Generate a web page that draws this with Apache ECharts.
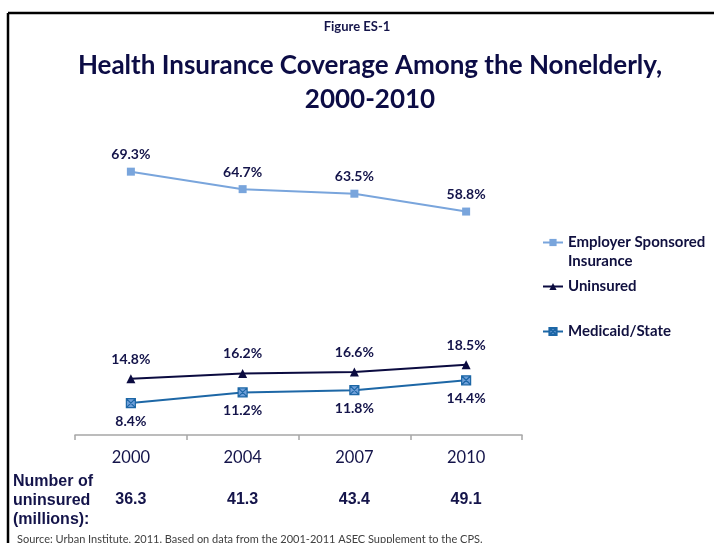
<!DOCTYPE html>
<html>
<head>
<meta charset="utf-8">
<script src="https://cdn.jsdelivr.net/npm/echarts@6/dist/echarts.min.js"></script>
<style>
  html, body { margin: 0; padding: 0; background: #fff; }
  #chart { width: 714px; height: 543px; }
</style>
</head>
<body>
<div id="chart"></div>
<script>
// Survey years and coverage shares (% of nonelderly)
const years = ['2000', '2004', '2007', '2010'];
const employerSponsored = [69.3, 64.7, 63.5, 58.8];
const uninsured = [14.8, 16.2, 16.6, 18.5];
const medicaidState = [8.4, 11.2, 11.8, 14.4];
// Number of uninsured people, millions
const uninsuredMillions = ['36.3', '41.3', '43.4', '49.1'];

const navy = '#14144a';
const labelFont = { fontFamily: 'Lato', fontWeight: 'bold', fontSize: 14, color: navy };
const pct = p => p.value.toFixed(1) + '%';

const chart = echarts.init(document.getElementById('chart'), null, { renderer: 'canvas' });

const legendBase = {
  orient: 'vertical',
  left: 537,
  itemWidth: 20,
  itemHeight: 9,
  itemGap: 4,
  textStyle: { fontFamily: 'Lato', fontWeight: 'bold', fontSize: 15, color: '#10103f', lineHeight: 19 },
  selectedMode: false
};

chart.setOption({
  animation: false,
  backgroundColor: '#ffffff',
  grid: { left: 75, right: 192, top: 131, bottom: 108, containLabel: false },
  xAxis: [
    {
      type: 'category',
      data: years,
      boundaryGap: true,
      axisLine: { show: true, lineStyle: { color: '#a6a6a6', width: 1.5 } },
      axisTick: { show: true, alignWithLabel: false, length: 5, lineStyle: { color: '#a6a6a6', width: 1.5 } },
      axisLabel: { margin: 14, fontFamily: 'Lato', fontSize: 16.5, color: navy },
      splitLine: { show: false }
    },
    {
      type: 'category',
      data: uninsuredMillions,
      position: 'bottom',
      offset: 57,
      gridIndex: 0,
      axisLine: { show: false },
      axisTick: { show: false },
      axisLabel: { margin: 0, fontFamily: 'Liberation Sans', fontWeight: 'bold', fontSize: 16, color: navy },
      splitLine: { show: false }
    }
  ],
  yAxis: {
    type: 'value',
    min: 0,
    max: 80,
    show: false,
    splitLine: { show: false }
  },
  legend: [
    Object.assign({}, legendBase, {
      top: 209,
      // blank first line keeps the icon level with "Employer Sponsored"
      formatter: () => ' \nEmployer Sponsored\nInsurance',
      data: ['Employer Sponsored Insurance']
    }),
    Object.assign({}, legendBase, { top: 272, data: ['Uninsured'] }),
    Object.assign({}, legendBase, { top: 317, data: ['Medicaid/State'] })
  ],
  series: [
    {
      name: 'Employer Sponsored Insurance',
      type: 'line',
      data: employerSponsored,
      symbol: 'rect',
      symbolSize: 8,
      lineStyle: { color: '#79a5dc', width: 2 },
      itemStyle: { color: '#79a5dc' },
      label: Object.assign({ show: true, position: 'top', distance: 6, formatter: pct }, labelFont)
    },
    {
      name: 'Uninsured',
      type: 'line',
      data: uninsured,
      symbol: 'triangle',
      symbolSize: [9, 9],
      lineStyle: { color: '#0b0b40', width: 2 },
      itemStyle: { color: '#0b0b40' },
      label: Object.assign({ show: true, position: 'top', distance: 8, formatter: pct }, labelFont)
    },
    {
      name: 'Medicaid/State',
      type: 'line',
      data: medicaidState,
      symbol: 'path://M0,0H10V10H0Z M0,0L10,10 M10,0L0,10',
      symbolSize: 9,
      lineStyle: { color: '#1d67a6', width: 2 },
      itemStyle: { color: '#6f9fd9', borderColor: '#1d67a6', borderWidth: 1.2 },
      label: Object.assign({ show: true, position: 'bottom', distance: 6, formatter: pct }, labelFont)
    }
  ],
  graphic: [
    // page frame
    { type: 'line', shape: { x1: 8, y1: 13, x2: 714, y2: 13 }, style: { stroke: '#000', lineWidth: 2.5 } },
    { type: 'line', shape: { x1: 8, y1: 13, x2: 8, y2: 543 }, style: { stroke: '#000', lineWidth: 2.5 } },
    {
      type: 'text', x: 357, y: 20,
      style: { text: 'Figure ES-1', fontFamily: 'Lato', fontWeight: 'bold', fontSize: 13, fill: navy, textAlign: 'center' }
    },
    {
      type: 'text', x: 370, y: 49,
      style: {
        text: 'Health Insurance Coverage Among the Nonelderly,\n2000-2010',
        fontFamily: 'Lato', fontWeight: 'bold', fontSize: 26, lineHeight: 34,
        fill: '#0c0c45', textAlign: 'center'
      }
    },
    {
      type: 'text', x: 13, y: 472,
      style: {
        text: 'Number of\nuninsured\n(millions):',
        fontFamily: 'Liberation Sans', fontWeight: 'bold', fontSize: 16, lineHeight: 19, fill: navy
      }
    },
    {
      type: 'text', x: 17, y: 534,
      style: {
        text: 'Source: Urban Institute, 2011. Based on data from the 2001-2011 ASEC Supplement to the CPS.',
        fontFamily: 'Lato', fontSize: 11, fill: '#404040'
      }
    }
  ]
});
</script>
</body>
</html>
